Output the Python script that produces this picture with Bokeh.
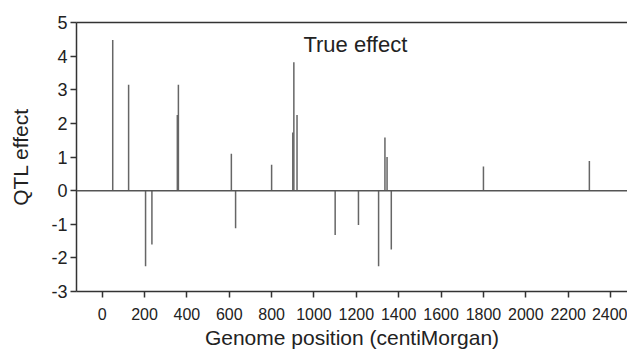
from bokeh.plotting import figure
from bokeh.models import Span, Label, LinearAxis, FixedTicker, Range1d
from bokeh.embed import file_html
from bokeh.resources import INLINE

# QTL positions (cM) and true effects
positions = [50, 125, 205, 235, 355, 360, 610, 630, 800, 900, 905, 920,
             1100, 1210, 1305, 1335, 1345, 1365, 1800, 2300]
effects = [4.48, 3.15, -2.25, -1.6, 2.25, 3.15, 1.1, -1.12, 0.77, 1.73, 3.82, 2.25,
           -1.32, -1.02, -2.25, 1.58, 1.0, -1.75, 0.72, 0.88]
x_ticks = list(range(0, 2401, 200))
y_ticks = list(range(-3, 6))

FONT = "Liberation Sans"
AX = "#333333"

p = figure(width=627, height=356, output_backend="svg", toolbar_location=None,
           x_range=Range1d(-121, 2480), y_range=Range1d(-3, 5),
           min_border_left=76, min_border_right=0, min_border_top=22, min_border_bottom=65)
p.outline_line_color = None
p.grid.visible = False
p.background_fill_color = "white"

xax = p.below[0]
yax = p.left[0]

p.segment(x0=positions, y0=[0] * len(positions), x1=positions, y1=effects,
          line_color="#666666", line_width=1.5)

p.add_layout(Span(location=0, dimension="width", line_color="#555555", line_width=1.5))

top = LinearAxis(ticker=FixedTicker(ticks=[]), axis_line_color=AX, axis_line_width=1.5,
                 major_label_text_font_size="0px", major_tick_line_color=None,
                 minor_tick_line_color=None)
p.add_layout(top, "above")

for ax in (xax, yax):
    ax.axis_line_color = AX
    ax.axis_line_width = 1.5
    ax.major_tick_line_color = AX
    ax.major_tick_line_width = 1.5
    ax.major_tick_in = 0
    ax.major_tick_out = 6
    ax.minor_tick_line_color = None
    ax.major_label_text_font = FONT
    ax.major_label_text_color = "#222222"
    ax.axis_label_text_font = FONT
    ax.axis_label_text_font_style = "normal"
    ax.axis_label_text_color = "#222222"

xax.ticker = FixedTicker(ticks=x_ticks)
yax.ticker = FixedTicker(ticks=y_ticks)
yax.major_label_overrides = {t: str(t) for t in y_ticks}
xax.major_label_text_font_size = "16px"
yax.major_label_text_font_size = "18px"
xax.axis_label = "Genome position (centiMorgan)"
yax.axis_label = "QTL effect"
xax.axis_label_text_font_size = "21px"
yax.axis_label_text_font_size = "21px"
xax.major_label_standoff = 10
yax.major_label_standoff = 3
xax.axis_label_standoff = 3
yax.axis_label_standoff = 16

p.add_layout(Label(x=950, y=4.35, text="True effect", text_font=FONT,
                   text_font_size="22px", text_color="#222222", text_baseline="middle"))

open("out.html", "w").write(file_html(p, INLINE))
